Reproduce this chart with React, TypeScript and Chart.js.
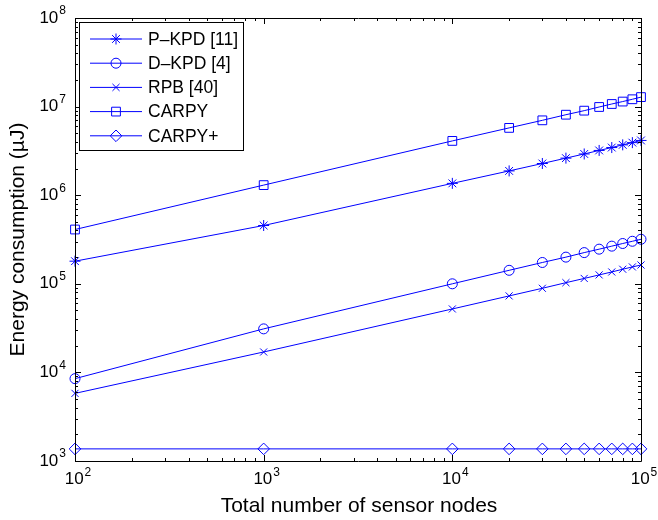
import React, { useEffect, useRef } from 'react';
import { Chart, registerables } from 'chart.js';

Chart.register(...registerables);

const nodes = [100, 1000, 10000, 20000, 30000, 40000, 50000, 60000, 70000, 80000, 90000, 100000];
const pkpd = [1.8e5, 4.55e5, 1.36e6, 1.88e6, 2.28e6, 2.62e6, 2.92e6, 3.2e6, 3.45e6, 3.7e6, 3.92e6, 4.15e6];
const dkpd = [8.5e3, 3.1e4, 1.0e5, 1.42e5, 1.74e5, 2.0e5, 2.25e5, 2.46e5, 2.66e5, 2.85e5, 3.02e5, 3.18e5];
const rpb = [5.8e3, 1.7e4, 5.2e4, 7.3e4, 8.9e4, 1.03e5, 1.15e5, 1.26e5, 1.36e5, 1.46e5, 1.55e5, 1.63e5];
const carpy = [4.1e5, 1.3e6, 4.1e6, 5.75e6, 7.0e6, 8.1e6, 9.0e6, 9.9e6, 1.07e7, 1.14e7, 1.21e7, 1.28e7];
const carpyPlus = [1.37e3, 1.37e3, 1.37e3, 1.37e3, 1.37e3, 1.37e3, 1.37e3, 1.37e3, 1.37e3, 1.37e3, 1.37e3, 1.37e3];

const seriesLabels = ['P\u2013KPD [11]', 'D\u2013KPD [4]', 'RPB [40]', 'CARPY', 'CARPY+'];
const seriesValues = [pkpd, dkpd, rpb, carpy, carpyPlus];
const seriesMarkers = ['star', 'circle', 'crossRot', 'rect', 'rectRot'];
const markerRadius = [5.5, 5, 5, 6.2, 5.8];

const xExponents = [2, 3, 4, 5];
const yExponents = [3, 4, 5, 6, 7, 8];

const xTitle = 'Total number of sensor nodes';
const yTitle = 'Energy consumption (\u00B5J)';

const BLUE = '#0000ff';
const FONT = '"Liberation Sans", Arial, Helvetica, sans-serif';

function drawMarker(ctx: CanvasRenderingContext2D, style: string, r: number, x: number, y: number) {
  ctx.beginPath();
  if (style === 'circle') {
    ctx.arc(x, y, r, 0, Math.PI * 2);
  } else if (style === 'rect') {
    const s = r * Math.SQRT1_2;
    ctx.rect(x - s, y - s, 2 * s, 2 * s);
  } else if (style === 'rectRot') {
    ctx.moveTo(x, y - r);
    ctx.lineTo(x + r, y);
    ctx.lineTo(x, y + r);
    ctx.lineTo(x - r, y);
    ctx.closePath();
  } else if (style === 'crossRot') {
    const d = r * Math.SQRT1_2;
    ctx.moveTo(x - d, y - d);
    ctx.lineTo(x + d, y + d);
    ctx.moveTo(x - d, y + d);
    ctx.lineTo(x + d, y - d);
  } else if (style === 'star') {
    const d = r * Math.SQRT1_2;
    ctx.moveTo(x - d, y - d);
    ctx.lineTo(x + d, y + d);
    ctx.moveTo(x - d, y + d);
    ctx.lineTo(x + d, y - d);
    ctx.moveTo(x, y - r);
    ctx.lineTo(x, y + r);
    ctx.moveTo(x - r, y);
    ctx.lineTo(x + r, y);
  }
  ctx.stroke();
}

function drawPow(ctx: CanvasRenderingContext2D, exp: number, x: number, y: number, mode: 'x' | 'y') {
  ctx.font = `17px ${FONT}`;
  const w10 = ctx.measureText('10').width;
  ctx.font = `12px ${FONT}`;
  const we = ctx.measureText(String(exp)).width;
  const total = w10 + we + 1;
  const start = mode === 'x' ? x - total / 2 : x - total;
  ctx.textAlign = 'left';
  ctx.textBaseline = 'middle';
  ctx.font = `17px ${FONT}`;
  ctx.fillText('10', start, y);
  ctx.font = `12px ${FONT}`;
  ctx.fillText(String(exp), start + w10 + 1, y - 7);
}

const matlabPlugin = {
  id: 'matlabDecor',
  afterDraw(chart: any) {
    const { ctx, chartArea } = chart;
    const { left, right, top, bottom } = chartArea;
    const xs = chart.scales.x;
    const ys = chart.scales.y;
    ctx.save();
    ctx.strokeStyle = '#000';
    ctx.fillStyle = '#000';
    ctx.lineWidth = 1;

    ctx.beginPath();
    ctx.rect(Math.round(left) + 0.5, Math.round(top) + 0.5, Math.round(right - left), Math.round(bottom - top));
    ctx.stroke();

    ctx.beginPath();
    const xMaxE = xExponents[xExponents.length - 1];
    for (let e = xExponents[0]; e <= xMaxE; e++) {
      for (let m = 1; m <= 9; m++) {
        const v = m * Math.pow(10, e);
        if (v > Math.pow(10, xMaxE)) break;
        const px = Math.round(xs.getPixelForValue(v)) + 0.5;
        const len = m === 1 ? 6 : 3;
        ctx.moveTo(px, bottom);
        ctx.lineTo(px, bottom - len);
        ctx.moveTo(px, top);
        ctx.lineTo(px, top + len);
      }
    }
    const yMaxE = yExponents[yExponents.length - 1];
    for (let e = yExponents[0]; e <= yMaxE; e++) {
      for (let m = 1; m <= 9; m++) {
        const v = m * Math.pow(10, e);
        if (v > Math.pow(10, yMaxE)) break;
        const py = Math.round(ys.getPixelForValue(v)) + 0.5;
        const len = m === 1 ? 6 : 3;
        ctx.moveTo(left, py);
        ctx.lineTo(left + len, py);
        ctx.moveTo(right, py);
        ctx.lineTo(right - len, py);
      }
    }
    ctx.stroke();

    xExponents.forEach((e) => {
      const px = xs.getPixelForValue(Math.pow(10, e));
      drawPow(ctx, e, px + 3, bottom + 18.5, 'x');
    });
    yExponents.forEach((e) => {
      const py = ys.getPixelForValue(Math.pow(10, e));
      drawPow(ctx, e, left - 9, py, 'y');
    });

    ctx.font = `21px ${FONT}`;
    ctx.textAlign = 'center';
    ctx.textBaseline = 'middle';
    ctx.fillText(xTitle, (left + right) / 2 + 1, 506);
    ctx.save();
    ctx.translate(18, (top + bottom) / 2);
    ctx.rotate(-Math.PI / 2);
    ctx.fillText(yTitle, 0, 0);
    ctx.restore();

    const lx = 79.5, ly = 22.5, lw = 164, lh = 128;
    ctx.fillStyle = '#fff';
    ctx.fillRect(lx, ly, lw, lh);
    ctx.strokeStyle = '#000';
    ctx.strokeRect(lx, ly, lw, lh);
    seriesLabels.forEach((label, i) => {
      const y = 39 + i * 24.2;
      ctx.strokeStyle = BLUE;
      ctx.lineWidth = 1;
      ctx.beginPath();
      ctx.moveTo(90, y);
      ctx.lineTo(142, y);
      ctx.stroke();
      drawMarker(ctx, seriesMarkers[i], markerRadius[i], 116, y);
      ctx.fillStyle = '#000';
      ctx.font = `17.5px ${FONT}`;
      ctx.textAlign = 'left';
      ctx.textBaseline = 'middle';
      ctx.fillText(label, 148, y + 1);
    });
    ctx.restore();
  },
};

export default function App() {
  const ref = useRef<HTMLCanvasElement | null>(null);
  useEffect(() => {
    if (!ref.current) return;
    const chart = new Chart(ref.current, {
      type: 'line',
      data: {
        datasets: seriesLabels.map((label, i) => ({
          label,
          data: nodes.map((n, j) => ({ x: n, y: seriesValues[i][j] })),
          borderColor: BLUE,
          backgroundColor: 'rgba(0,0,0,0)',
          borderWidth: 1,
          pointStyle: seriesMarkers[i] as any,
          pointRadius: markerRadius[i],
          pointBorderColor: BLUE,
          pointBackgroundColor: 'rgba(0,0,0,0)',
          pointBorderWidth: 1,
          tension: 0,
          fill: false,
          clip: false as any,
        })),
      },
      options: {
        animation: false,
        responsive: false,
        devicePixelRatio: 1,
        layout: { padding: { left: 75, right: 17, top: 18, bottom: 59 } },
        plugins: {
          legend: { display: false },
          tooltip: { enabled: false },
        },
        scales: {
          x: {
            type: 'logarithmic',
            min: 100,
            max: 100000,
            grid: { display: false, drawTicks: false },
            border: { display: false },
            ticks: { display: false },
          },
          y: {
            type: 'logarithmic',
            min: 1000,
            max: 1e8,
            grid: { display: false, drawTicks: false },
            border: { display: false },
            ticks: { display: false },
          },
        },
      },
      plugins: [matlabPlugin],
    });
    return () => chart.destroy();
  }, []);
  return (
    <div style={{ position: 'absolute', left: 0, top: 0, width: 658, height: 520, background: '#fff' }}>
      <canvas ref={ref} width={658} height={520} style={{ width: 658, height: 520 }} />
    </div>
  );
}
